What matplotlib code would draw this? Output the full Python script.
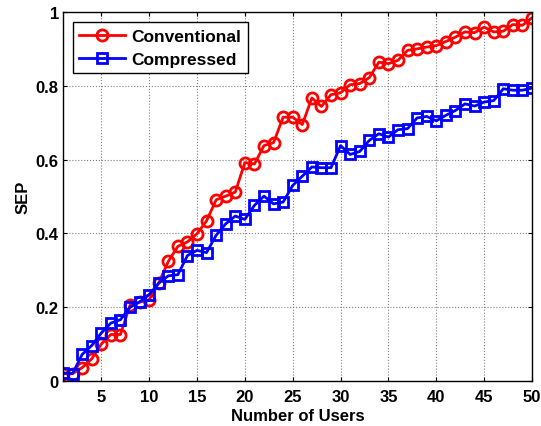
import numpy as np
import matplotlib
matplotlib.use('Agg')
import matplotlib.pyplot as plt

users = list(range(1, 51))
sep_conventional = [0.02, 0.02, 0.036, 0.06, 0.10, 0.126, 0.126, 0.205, 0.214, 0.22,
                    0.266, 0.324, 0.365, 0.377, 0.399, 0.434, 0.491, 0.501, 0.512, 0.592,
                    0.588, 0.638, 0.646, 0.715, 0.715, 0.695, 0.767, 0.744, 0.776, 0.781,
                    0.803, 0.806, 0.822, 0.864, 0.86, 0.869, 0.896, 0.90, 0.905, 0.909,
                    0.92, 0.932, 0.946, 0.944, 0.959, 0.946, 0.948, 0.966, 0.964, 0.984]
sep_compressed = [0.022, 0.02, 0.072, 0.096, 0.13, 0.157, 0.166, 0.20, 0.214, 0.234,
                  0.265, 0.285, 0.288, 0.34, 0.354, 0.348, 0.395, 0.426, 0.447, 0.438,
                  0.476, 0.501, 0.48, 0.485, 0.53, 0.555, 0.58, 0.578, 0.578, 0.638,
                  0.614, 0.622, 0.652, 0.67, 0.661, 0.681, 0.684, 0.713, 0.717, 0.705,
                  0.72, 0.733, 0.751, 0.745, 0.756, 0.76, 0.792, 0.788, 0.788, 0.794]

plt.rcParams['font.family'] = ['Liberation Sans', 'DejaVu Sans']
plt.rcParams['font.weight'] = 'bold'
plt.rcParams['font.size'] = 12

fig = plt.figure(figsize=(5.41, 4.27), dpi=100)
ax = fig.add_axes([63 / 541, 1 - 382 / 427, (532 - 63) / 541, (382 - 13) / 427])

ax.plot(users, sep_conventional, color='red', linewidth=2, marker='o',
        markersize=8, markeredgewidth=2, fillstyle='none', label='Conventional')
ax.plot(users, sep_compressed, color='blue', linewidth=2, marker='s',
        markersize=7.5, markeredgewidth=2, fillstyle='none', label='Compressed')

ax.set_xlim(1, 50)
ax.set_ylim(0, 1)
ax.set_xticks(range(5, 51, 5))
ax.set_yticks([0, 0.2, 0.4, 0.6, 0.8, 1])
ax.set_yticklabels(['0', '0.2', '0.4', '0.6', '0.8', '1'])
ax.tick_params(direction='in', top=True, right=True, length=3, width=0.8, labelsize=12)
ax.tick_params(axis='x', pad=6)
ax.tick_params(axis='y', pad=3)
ax.grid(True, color='#808080', linestyle=':', linewidth=0.8)
for s in ax.spines.values():
    s.set_linewidth(1.0)

ax.set_xlabel('Number of Users', fontweight='bold', labelpad=3)
ax.set_ylabel('SEP', fontweight='bold', labelpad=4)

leg = ax.legend(loc='upper left', fancybox=False, edgecolor='black', framealpha=1,
                bbox_to_anchor=(0.0, 1.0), borderaxespad=0.6, handlelength=2.6,
                handletextpad=0.4, fontsize=12.5, borderpad=0.35, labelspacing=0.45)
leg.get_frame().set_linewidth(1.0)

fig.savefig('out.png', dpi=100)
